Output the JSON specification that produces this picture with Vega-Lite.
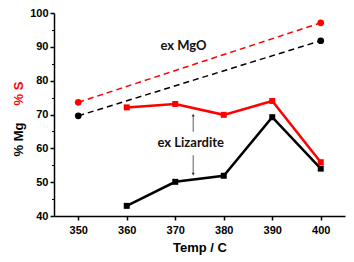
{
  "$schema": "https://vega.github.io/schema/vega-lite/v6.json",
  "width": 291,
  "height": 203,
  "autosize": "none",
  "padding": {"left": 54, "top": 13, "right": 9, "bottom": 46},
  "background": "white",
  "config": {
    "view": {"stroke": null},
    "font": "Liberation Sans"
  },
  "datasets": {
    "series": [
      {"temp": 350, "pct": 73.6, "series": "S", "kind": "MgO"},
      {"temp": 400, "pct": 97.1, "series": "S", "kind": "MgO"},
      {"temp": 350, "pct": 69.6, "series": "Mg", "kind": "MgO"},
      {"temp": 400, "pct": 91.8, "series": "Mg", "kind": "MgO"},
      {"temp": 360, "pct": 43.0, "series": "Mg", "kind": "Lizardite"},
      {"temp": 370, "pct": 50.1, "series": "Mg", "kind": "Lizardite"},
      {"temp": 380, "pct": 51.9, "series": "Mg", "kind": "Lizardite"},
      {"temp": 390, "pct": 69.2, "series": "Mg", "kind": "Lizardite"},
      {"temp": 400, "pct": 54.0, "series": "Mg", "kind": "Lizardite"},
      {"temp": 360, "pct": 72.1, "series": "S", "kind": "Lizardite"},
      {"temp": 370, "pct": 73.1, "series": "S", "kind": "Lizardite"},
      {"temp": 380, "pct": 69.9, "series": "S", "kind": "Lizardite"},
      {"temp": 390, "pct": 74.0, "series": "S", "kind": "Lizardite"},
      {"temp": 400, "pct": 55.9, "series": "S", "kind": "Lizardite"}
    ],
    "arrows": [
      {"temp": 373.7, "from": 64.9, "to": 69.8, "head": "triangle-up"},
      {"temp": 373.7, "from": 58.0, "to": 52.4, "head": "triangle-down"}
    ],
    "labels": [
      {"temp": 371.7, "pct": 90.2, "text": "ex MgO"},
      {"temp": 373.2, "pct": 61.6, "text": "ex Lizardite"}
    ]
  },
  "resolve": {"axis": {"y": "independent"}},
  "layer": [
    {
      "data": {"name": "series"},
      "transform": [{"filter": "datum.kind === 'MgO'"}],
      "mark": {"type": "line", "strokeWidth": 1.5, "strokeDash": [6, 4]},
      "encoding": {
        "x": {
          "field": "temp", "type": "quantitative",
          "scale": {"domain": [345, 405], "nice": false, "zero": false},
          "axis": {
            "title": "Temp / C", "values": [350, 360, 370, 380, 390, 400],
            "grid": false, "domainColor": "black", "domainWidth": 1.5,
            "tickColor": "black", "tickWidth": 1.5, "tickSize": 4,
            "labelFont": "Liberation Sans", "labelFontWeight": "bold", "labelFontSize": 11, "labelColor": "black", "labelPadding": 4,
            "titleFont": "Liberation Sans", "titleFontWeight": "bold", "titleFontSize": 13, "titleColor": "black", "titlePadding": 6
          }
        },
        "y": {
          "field": "pct", "type": "quantitative",
          "scale": {"domain": [40, 100], "nice": false, "zero": false},
          "axis": {
            "orient": "left",
            "title": "% Mg", "values": [40, 50, 60, 70, 80, 90, 100],
            "grid": false, "domainColor": "black", "domainWidth": 1.5,
            "tickColor": "black", "tickWidth": 1.5, "tickSize": 4,
            "labelFont": "Liberation Sans", "labelFontWeight": "bold", "labelFontSize": 11, "labelColor": "black", "labelPadding": 2,
            "titleFont": "Liberation Sans", "titleFontWeight": "bold", "titleFontSize": 13, "titleColor": "black",
            "titleAngle": 270, "titleAlign": "center", "titleBaseline": "middle", "titleX": -36, "titleY": 126
          }
        },
        "color": {"field": "series", "type": "nominal", "scale": {"domain": ["S", "Mg"], "range": ["#ff0000", "#000000"]}, "legend": null},
        "detail": {"field": "series"}
      }
    },
    {
      "data": {"name": "series"},
      "transform": [{"filter": "datum.kind === 'Lizardite'"}],
      "mark": {"type": "line", "strokeWidth": 2.5},
      "encoding": {
        "x": {"field": "temp", "type": "quantitative"},
        "y": {
          "field": "pct", "type": "quantitative",
          "axis": {
            "orient": "left",
            "title": "% S", "values": [45, 55, 65, 75, 85, 95],
            "grid": false, "domain": false, "labels": false,
            "tickColor": "black", "tickWidth": 1, "tickSize": 2.5,
            "titleFont": "Liberation Sans", "titleFontWeight": "bold", "titleFontSize": 13, "titleColor": "#ff0000",
            "titleAngle": 270, "titleAlign": "center", "titleBaseline": "middle", "titleX": -36, "titleY": 80
          }
        },
        "color": {"field": "series", "type": "nominal", "legend": null}
      }
    },
    {
      "data": {"name": "series"},
      "transform": [{"filter": "datum.kind === 'MgO'"}],
      "mark": {"type": "point", "shape": "circle", "filled": true, "opacity": 1, "size": 45},
      "encoding": {
        "x": {"field": "temp", "type": "quantitative"},
        "y": {"field": "pct", "type": "quantitative", "axis": null},
        "color": {"field": "series", "type": "nominal", "legend": null}
      }
    },
    {
      "data": {"name": "series"},
      "transform": [{"filter": "datum.kind === 'Lizardite'"}],
      "mark": {"type": "point", "shape": "square", "filled": true, "opacity": 1, "size": 36},
      "encoding": {
        "x": {"field": "temp", "type": "quantitative"},
        "y": {"field": "pct", "type": "quantitative", "axis": null},
        "color": {"field": "series", "type": "nominal", "legend": null}
      }
    },
    {
      "data": {"name": "arrows"},
      "mark": {"type": "rule", "color": "#333333", "strokeWidth": 0.8},
      "encoding": {
        "x": {"field": "temp", "type": "quantitative"},
        "y": {"field": "from", "type": "quantitative", "axis": null},
        "y2": {"field": "to"}
      }
    },
    {
      "data": {"name": "arrows"},
      "mark": {"type": "point", "filled": true, "opacity": 1, "color": "#333333", "size": 10},
      "encoding": {
        "x": {"field": "temp", "type": "quantitative"},
        "y": {"field": "to", "type": "quantitative", "axis": null},
        "shape": {"field": "head", "type": "nominal", "scale": {"domain": ["triangle-up", "triangle-down"], "range": ["triangle-up", "triangle-down"]}, "legend": null}
      }
    },
    {
      "data": {"name": "labels"},
      "mark": {"type": "text", "font": "Lato", "fontSize": 13, "fontWeight": "bold", "color": "#111111", "align": "center", "baseline": "middle"},
      "encoding": {
        "x": {"field": "temp", "type": "quantitative"},
        "y": {"field": "pct", "type": "quantitative", "axis": null},
        "text": {"field": "text"}
      }
    }
  ]
}
